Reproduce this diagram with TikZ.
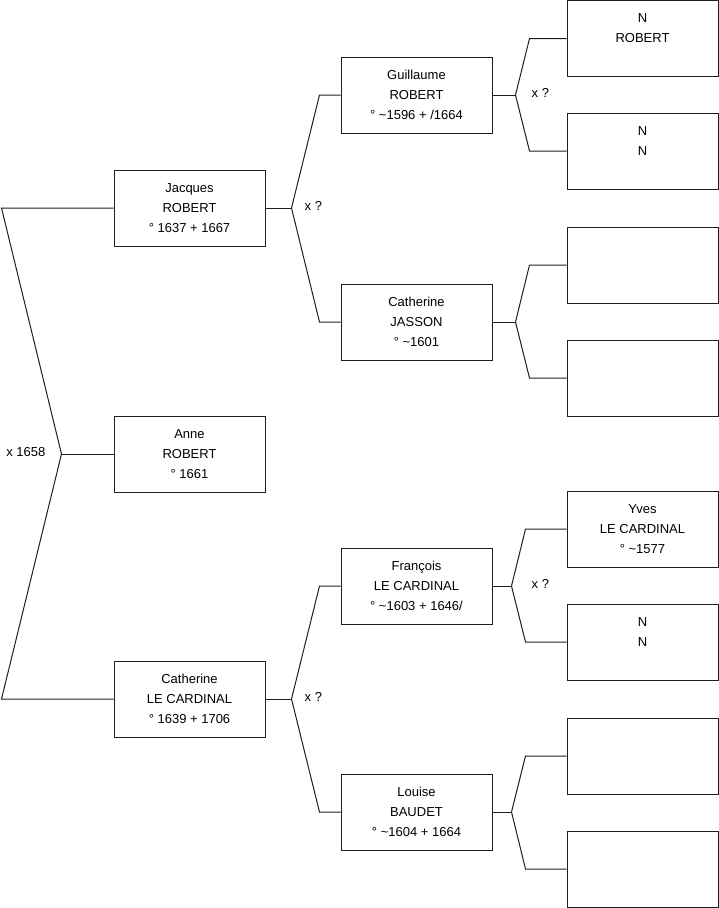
\documentclass[tikz,border=0pt]{standalone}
\usepackage{fontspec}
\setmainfont{Liberation Sans}
\definecolor{linegray}{gray}{0.12}
\newcommand{\lines}[3]{\strut #1\\\strut #2\\\strut #3}

\begin{document}
\begin{tikzpicture}[x=1pt,y=-1pt,
  person/.style={draw=linegray,line width=1pt,minimum width=151pt,minimum height=76pt,inner sep=0pt,align=center,font=\fontsize{13}{20}\selectfont},
  link/.style={draw=linegray,line width=1pt},
  union/.style={inner sep=0pt,font=\fontsize{13}{20}\selectfont}]
\useasboundingbox (0,0) rectangle (719,908);
% generation 1
\node[person] (jacques) at (189.5,208) {\lines{Jacques}{ROBERT}{° 1637 + 1667}};
\node[person] (anne) at (189.5,454) {\lines{Anne}{ROBERT}{° 1661}};
\node[person] (catlc) at (189.5,699) {\lines{Catherine}{LE CARDINAL}{° 1639 + 1706}};
% generation 2
\node[person] (guil) at (416.5,95) {\lines{Guillaume}{ROBERT}{° \textasciitilde1596 + /1664}};
\node[person] (catj) at (416.5,322) {\lines{Catherine}{JASSON}{° \textasciitilde1601}};
\node[person] (fran) at (416.5,586) {\lines{François}{LE CARDINAL}{° \textasciitilde1603 + 1646/}};
\node[person] (lou) at (416.5,812) {\lines{Louise}{BAUDET}{° \textasciitilde1604 + 1664}};
% generation 3
\node[person] (nrob) at (642.5,38.5) {\lines{N}{ROBERT}{}};
\node[person] (nn1) at (642.5,151) {\lines{N}{N}{}};
\node[person] (ea) at (642.5,265) {};
\node[person] (eb) at (642.5,378) {};
\node[person] (yves) at (642.5,529) {\lines{Yves}{LE CARDINAL}{° \textasciitilde1577}};
\node[person] (nn2) at (642.5,642) {\lines{N}{N}{}};
\node[person] (ec) at (642.5,756) {};
\node[person] (ed) at (642.5,869) {};

% couples
\foreach \c/\f/\m/\dv/\dk in {jacques/guil/catj/26/28, catlc/fran/lou/26/28,
    guil/nrob/nn1/23/14, catj/ea/eb/23/14, fran/yves/nn2/19/14, lou/ec/ed/19/14} {
  \coordinate (v\c) at ([xshift=\dv pt]\c.east);
  \coordinate (k\c) at ([xshift=\dk pt]v\c);
  \draw[link] (\c.east) -- (v\c);
  \draw[link] (v\c) -- (k\c |- \f.west) -- (\f.west);
  \draw[link] (v\c) -- (k\c |- \m.west) -- (\m.west);
}
% root couple, drawn to the left
\coordinate (vanne) at ([xshift=-52pt]anne.west);
\coordinate (kanne) at ([xshift=-60pt]vanne);
\draw[link] (anne.west) -- (vanne);
\draw[link] (vanne) -- (kanne |- jacques.west) -- (jacques.west);
\draw[link] (vanne) -- (kanne |- catlc.west) -- (catlc.west);

% marriages
\node[union,anchor=base east] (manne) at ([xshift=-16pt,yshift=-2.7pt]vanne) {x 1658};
\node[union,anchor=base west] (mjacques) at ([xshift=13pt,yshift=-2.5pt]vjacques) {x ?};
\node[union,anchor=base west] (mcatlc) at ([xshift=13pt,yshift=-2.5pt]vcatlc) {x ?};
\node[union,anchor=base west] (mguil) at ([xshift=16pt,yshift=-2.5pt]vguil) {x ?};
\node[union,anchor=base west] (mfran) at ([xshift=20pt,yshift=-2.5pt]vfran) {x ?};
\end{tikzpicture}
\end{document}
